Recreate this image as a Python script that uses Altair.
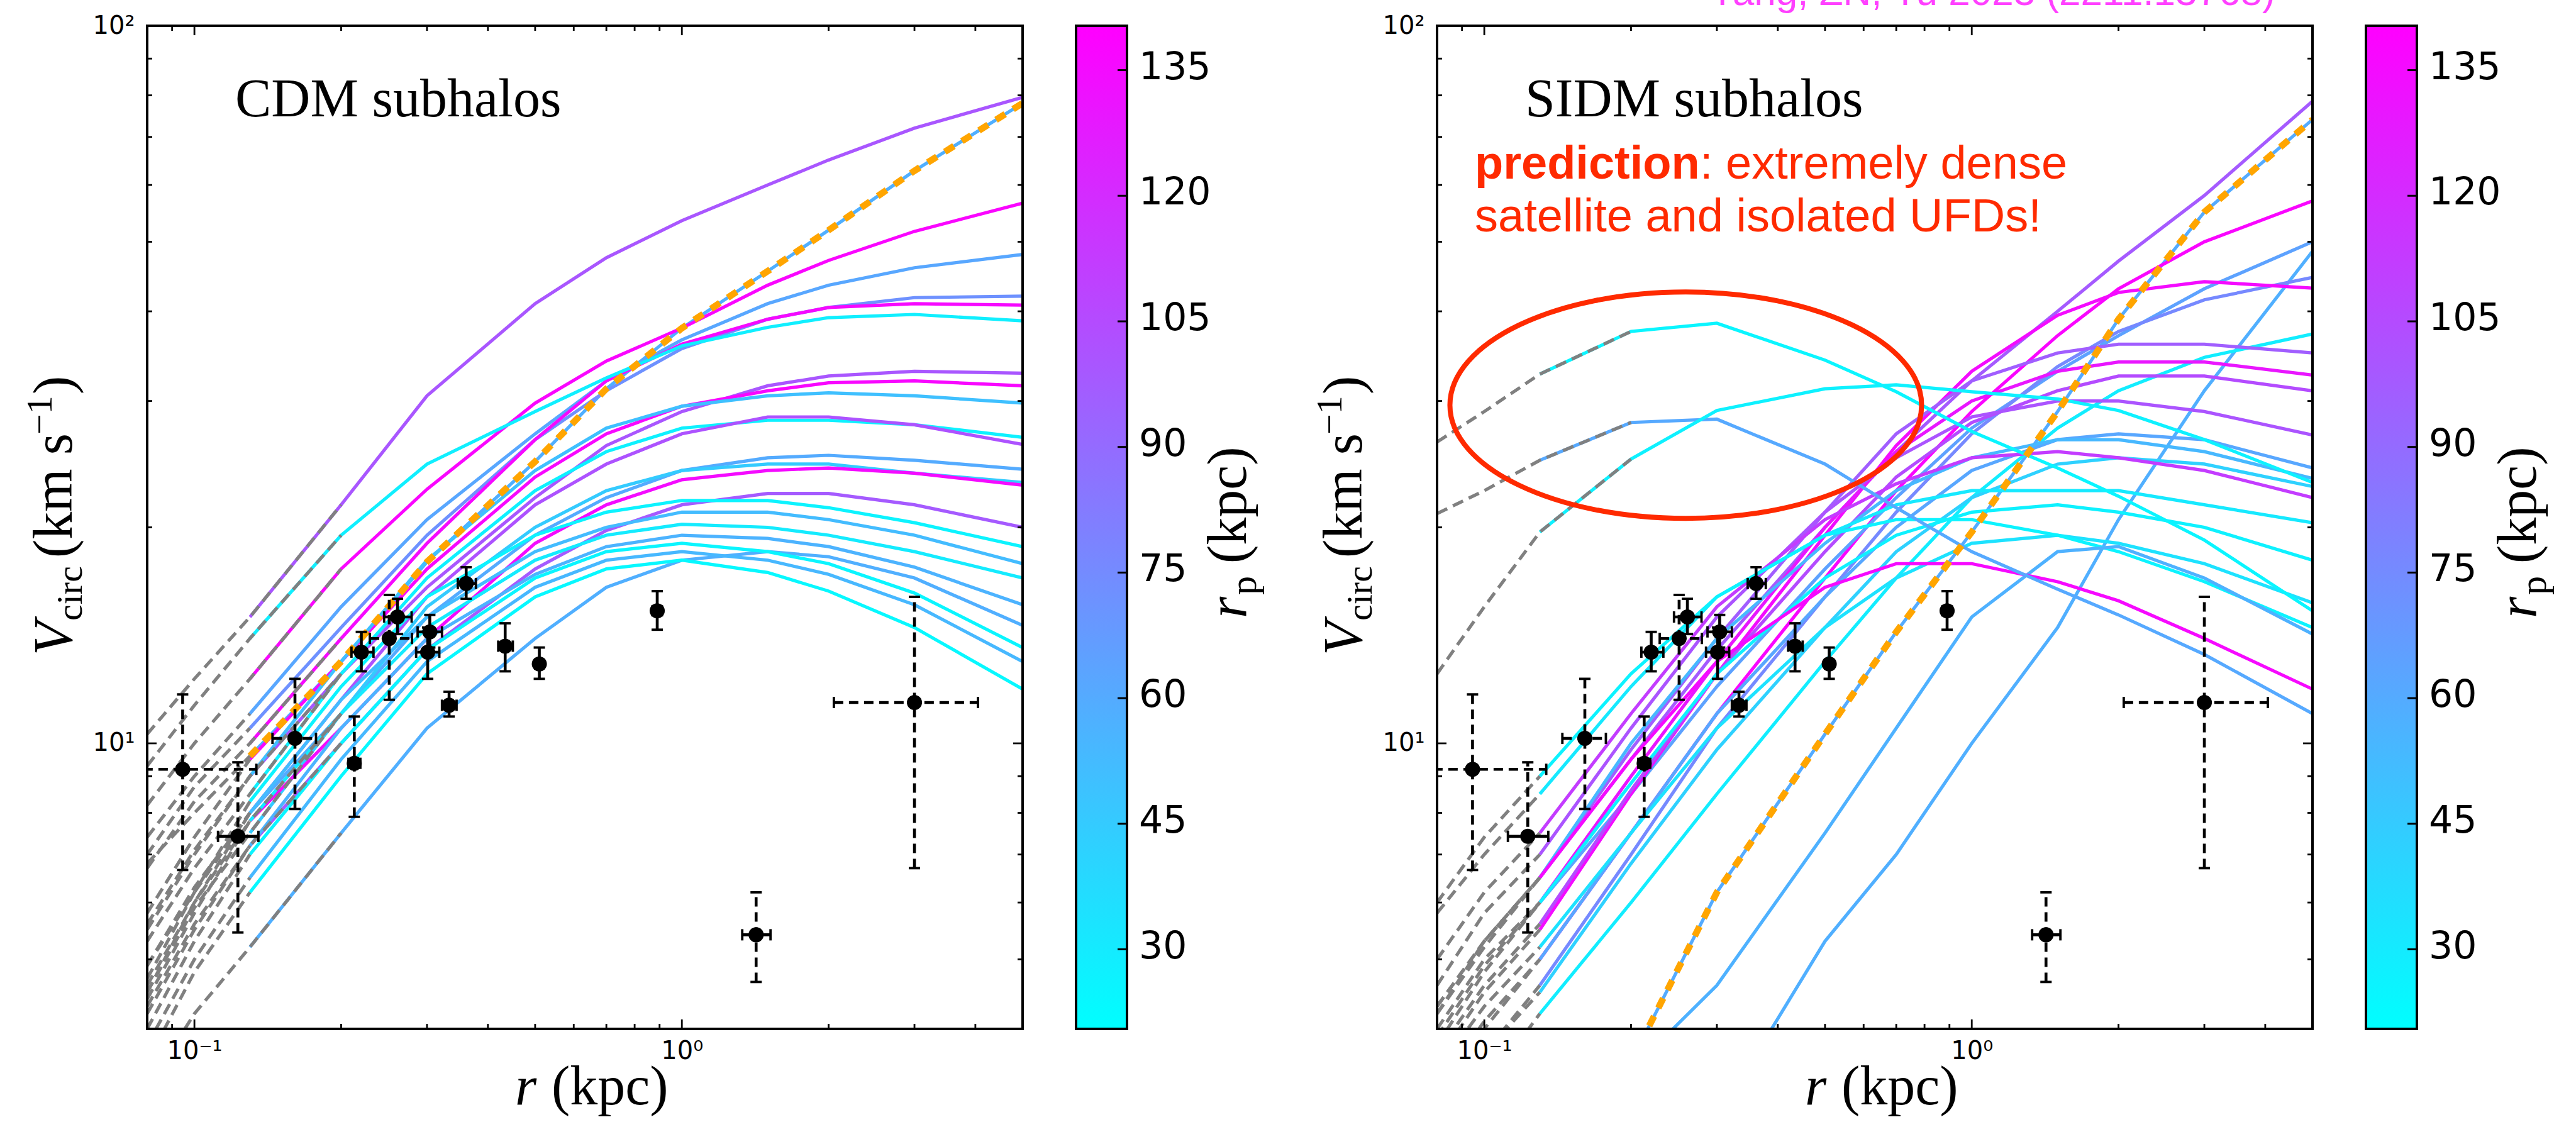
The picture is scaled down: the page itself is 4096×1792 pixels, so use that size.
import altair as alt
import pandas as pd

# ---------------------------------------------------------------- data
R_GRID = [0.08, 0.1, 0.13, 0.2, 0.3, 0.5, 0.7, 1.0, 1.5, 2.0, 3.0, 5.0]

# CDM subhalo rotation curves (km/s at R_GRID), pericentre r_p, convergence radius
CDM_RP = [100, 58, 138, 62, 72, 136, 28, 100, 137, 50, 27, 102,
          60, 45, 135, 98, 26, 52, 30, 56, 58, 25, 54, 24]
CDM_RCONV = [0.2, 0.13, 0.2, 0.13, 0.13, 0.2, 0.2, 0.2, 0.13, 0.13, 0.2, 0.13,
             0.13, 0.2, 0.13, 0.2, 0.13, 0.13, 0.2, 0.13, 0.2, 0.13, 0.13, 0.13]
CDM_V = [
    [10.3, 12.3, 15.0, 21.5, 30.5, 41.0, 47.5, 53.5, 60.0, 65.0, 72.0, 79.5],
    [6.8, 8.0, 9.6, 13.0, 17.9, 24.7, 31.2, 37.9, 45.5, 51.9, 62.8, 78.0],
    [8.2, 10.0, 12.3, 17.5, 22.6, 29.8, 34.1, 37.9, 43.5, 47.1, 51.7, 56.6],
    [7.4, 9.0, 11.0, 15.5, 20.5, 27.0, 32.0, 36.5, 41.0, 43.5, 46.0, 48.0],
    [7.0, 8.7, 10.5, 14.5, 19.5, 26.5, 31.0, 35.5, 39.0, 40.5, 41.8, 42.0],
    [6.7, 8.3, 10.0, 14.0, 19.0, 26.5, 32.0, 36.0, 39.0, 40.5, 41.0, 40.8],
    [9.3, 11.3, 14.0, 19.5, 24.5, 29.0, 32.3, 35.8, 38.0, 39.2, 39.6, 38.8],
    [5.5, 7.0, 9.0, 12.5, 16.5, 22.0, 26.0, 29.0, 31.5, 32.5, 33.0, 32.8],
    [5.8, 7.4, 9.5, 13.0, 17.5, 23.5, 27.0, 29.5, 31.0, 31.8, 32.0, 31.5],
    [5.6, 7.1, 9.0, 13.0, 18.0, 24.0, 27.5, 29.5, 30.5, 30.8, 30.5, 29.8],
    [5.3, 6.7, 8.5, 12.5, 17.0, 22.5, 25.5, 27.5, 28.2, 28.2, 27.8, 26.7],
    [4.9, 6.3, 8.0, 11.5, 16.0, 21.5, 24.5, 27.0, 28.5, 28.5, 27.8, 26.1],
    [4.9, 6.2, 8.0, 11.0, 15.0, 19.5, 22.0, 24.0, 25.0, 25.2, 24.8, 24.1],
    [4.5, 5.9, 7.5, 11.0, 15.5, 20.0, 22.5, 24.0, 24.5, 24.5, 23.8, 23.1],
    [4.6, 6.0, 7.8, 10.5, 14.0, 19.0, 21.5, 23.3, 24.0, 24.2, 23.8, 22.9],
    [4.3, 5.6, 7.2, 10.0, 13.5, 17.5, 19.8, 21.5, 22.3, 22.3, 21.5, 20.0],
    [4.7, 6.2, 8.3, 12.0, 16.0, 19.5, 21.0, 21.8, 21.8, 21.3, 20.3, 18.8],
    [4.5, 6.0, 8.0, 11.5, 15.0, 18.5, 20.0, 21.0, 21.0, 20.5, 19.5, 17.8],
    [4.4, 5.8, 7.8, 11.0, 14.5, 18.0, 19.5, 20.2, 20.0, 19.5, 18.5, 17.0],
    [4.2, 5.5, 7.2, 10.5, 14.0, 17.2, 18.8, 19.5, 19.3, 18.8, 17.6, 15.6],
    [3.3, 4.2, 5.2, 7.5, 10.5, 14.0, 16.5, 18.0, 18.5, 18.2, 17.0, 14.6],
    [4.0, 5.3, 7.0, 10.0, 13.5, 17.0, 18.5, 19.0, 18.5, 17.8, 16.2, 13.6],
    [3.8, 5.0, 6.5, 9.5, 13.0, 16.5, 18.0, 18.5, 18.0, 17.2, 15.6, 13.0],
    [3.6, 4.8, 6.2, 9.0, 12.5, 16.0, 17.5, 18.0, 17.3, 16.3, 14.5, 11.9],
]
CDM_HIGHLIGHT = 1

# SIDM subhalo rotation curves
SIDM_RP = [98, 60, 138, 64, 58, 76, 135, 29, 96, 130, 105, 101, 62,
           54, 42, 112, 31, 27, 34, 26, 57, 136, 61, 25, 27]
SIDM_RCONV = [0.13, 0.2, 0.13, 0.13, 0.0, 0.13, 0.13, 0.13, 0.13, 0.13, 0.13, 0.13, 0.13,
              0.13, 0.13, 0.13, 0.13, 0.13, 0.13, 0.13, 0.0, 0.13, 0.2, 0.2, 0.2]
SIDM_V = [
    [4.2, 5.2, 6.5, 9.5, 13.5, 20.0, 25.5, 32.0, 40.0, 47.0, 58.0, 78.5],
    [None, None, None, 3.6, 6.2, 10.3, 14.3, 19.7, 29.0, 39.0, 55.0, 74.0],
    [3.3, 4.0, 5.0, 7.5, 11.0, 17.0, 22.5, 29.0, 37.0, 43.0, 50.0, 57.0],
    [3.8, 4.8, 6.0, 8.5, 12.0, 17.5, 22.0, 27.5, 33.0, 37.0, 43.0, 50.0],
    [None, None, None, None, 3.0, 5.3, 7.0, 10.0, 14.5, 20.5, 31.0, 48.5],
    [3.0, 3.7, 4.6, 7.0, 10.5, 16.0, 21.0, 27.0, 33.5, 37.5, 41.5, 44.6],
    [3.6, 4.5, 5.5, 8.5, 12.5, 19.5, 26.0, 33.0, 39.5, 42.5, 44.0, 43.1],
    [None, 3.3, 4.2, 6.0, 8.5, 13.0, 17.0, 22.0, 27.5, 31.0, 34.5, 37.2],
    [4.3, 5.3, 6.5, 9.8, 14.0, 21.0, 27.0, 32.0, 35.0, 36.0, 36.0, 35.0],
    [3.9, 4.9, 6.0, 9.0, 13.0, 20.0, 25.5, 30.0, 33.0, 34.0, 34.0, 32.6],
    [3.7, 4.6, 5.6, 8.6, 12.5, 18.5, 23.5, 28.0, 31.0, 32.5, 32.5, 31.0],
    [4.6, 5.8, 7.0, 10.5, 15.0, 21.0, 25.0, 28.5, 30.0, 30.0, 29.0, 26.9],
    [3.3, 4.1, 5.0, 7.5, 11.0, 16.0, 20.0, 24.0, 26.5, 27.0, 26.5, 24.2],
    [4.2, 5.3, 6.5, 10.0, 14.0, 19.0, 22.5, 25.0, 26.5, 26.5, 25.5, 23.4],
    [3.0, 3.7, 4.5, 6.8, 9.8, 14.5, 18.5, 22.0, 24.5, 25.0, 24.5, 22.8],
    [5.0, 6.2, 7.5, 11.0, 15.5, 20.5, 23.0, 25.0, 25.5, 25.0, 24.0, 22.0],
    [5.8, 7.0, 8.5, 12.0, 16.0, 19.5, 21.5, 22.5, 22.5, 22.5, 21.5, 20.3],
    [4.0, 5.0, 6.0, 8.8, 12.5, 17.0, 19.5, 21.0, 21.5, 21.0, 20.0, 18.0],
    [3.5, 4.3, 5.2, 7.5, 10.5, 14.5, 17.0, 19.0, 19.5, 19.0, 17.8, 15.7],
    [6.0, 7.4, 9.0, 12.5, 16.0, 19.5, 20.5, 20.5, 19.5, 18.5, 16.8, 14.5],
    [None, None, None, 3.5, 4.6, 7.5, 10.5, 15.0, 18.5, 18.8, 17.0, 14.2],
    [4.3, 5.3, 6.5, 9.5, 13.0, 16.5, 17.8, 17.8, 16.8, 15.8, 14.0, 11.9],
    [20.9, 22.5, 24.8, 28.0, 28.3, 24.5, 21.3, 18.5, 16.4, 15.1, 13.3, 11.0],
    [26.3, 29.0, 32.7, 37.5, 38.5, 34.2, 30.9, 27.2, 24.2, 22.1, 19.2, 15.3],
    [12.5, 15.5, 19.7, 24.9, 29.1, 31.2, 31.6, 30.9, 30.2, 29.1, 26.5, 23.1],
]
SIDM_HIGHLIGHT = 1

# observed dwarf galaxies (r, Vcirc) with error ranges; dashed = uncertain
OBS_R = [0.0946, 0.1228, 0.1608, 0.2128, 0.22, 0.251, 0.261, 0.304, 0.301, 0.333,
         0.361, 0.434, 0.51, 0.89, 1.42, 3.0]
OBS_V = [9.2, 7.42, 10.16, 9.38, 13.4, 14.0, 15.0, 14.3, 13.4, 11.3,
         16.7, 13.66, 12.9, 15.3, 5.41, 11.4]
OBS_R_LO = [0.055, 0.1118, 0.1446, 0.207, 0.21, 0.229, 0.245, 0.287, 0.285, 0.322,
            0.347, 0.42, 0.5, 0.87, 1.33, 2.05]
OBS_R_HI = [0.134, 0.1353, 0.1776, 0.219, 0.233, 0.2795, 0.279, 0.322, 0.318, 0.345,
            0.378, 0.45, 0.52, 0.91, 1.52, 4.05]
OBS_V_LO = [6.66, 5.45, 8.1, 7.9, 12.6, 11.5, 14.2, 13.6, 12.3, 10.9,
            15.9, 12.6, 12.3, 14.4, 4.65, 6.7]
OBS_V_HI = [11.7, 9.41, 12.3, 10.9, 14.3, 16.1, 15.9, 15.1, 14.5, 11.8,
            17.6, 14.7, 13.6, 16.3, 6.2, 16.0]
OBS_V_DASHED = [True, True, True, True, False, True, False, False, False, False,
                False, False, False, False, True, True]
OBS_R_DASHED = [True, False, True, False, False, True, False, False, False, False,
                False, False, False, False, False, True]

X_MAJOR = [0.1, 1.0]
X_MINOR = [0.09, 0.2, 0.3, 0.4, 0.5, 0.6, 0.7, 0.8, 0.9, 2.0, 3.0, 4.0]
Y_MAJOR = [10, 100]
Y_MINOR = [5, 6, 7, 8, 9, 20, 30, 40, 50, 60, 70, 80, 90]
CB_DOMAIN = [20.5, 140.3]
CB_TICKS = [30, 45, 60, 75, 90, 105, 120, 135]

ELLIPSE_R = [0.259]
ELLIPSE_V = [29.6]

# ---------------------------------------------------------------- layout
W, H = 1392, 1595
CB_W = 81
GAP = 85
SERIF = "Liberation Serif"
SANS = "DejaVu Sans"
LW = 5.2

XS = alt.Scale(type="log", domain=[0.08, 5.0], nice=False)
YS = alt.Scale(type="log", domain=[4, 100], nice=False)
CS = alt.Scale(domain=CB_DOMAIN, range=["#00FFFF", "#FF00FF"], interpolate="rgb")
CBS = alt.Scale(domain=CB_DOMAIN, nice=False, zero=False)

XAX = alt.Axis(values=X_MAJOR, labelExpr="datum.value < 0.5 ? '10⁻¹' : '10⁰'",
               ticks=False, domain=False, grid=False, title=None, labelFont=SANS,
               labelFontSize=40, labelPadding=15, labelColor="black",
               labelFlush=False, labelOverlap=False)
YAX = alt.Axis(values=Y_MAJOR, labelExpr="datum.value < 50 ? '10¹' : '10²'",
               ticks=False, domain=False, grid=False, title=None, labelFont=SANS,
               labelFontSize=40, labelPadding=20, labelColor="black",
               labelFlush=False, labelOverlap=False)


def X(f):
    return alt.X(f + ":Q", scale=XS, axis=XAX)


def Y(f):
    return alt.Y(f + ":Q", scale=YS, axis=YAX)


ONE = pd.DataFrame({"k": [0]})


def txt(text, x, y, size, font=SERIF, style="normal", weight="normal",
        angle=0, align="left", color="black"):
    return alt.Chart(ONE).mark_text(
        text=text, font=font, fontSize=size, fontStyle=style, fontWeight=weight,
        angle=angle, align=align, baseline="alphabetic", color=color
    ).encode(x=alt.value(x), y=alt.value(y))


def curve_frames(rps, rconvs, vals, hl, tag):
    solid, gray, high = [], [], []
    for i, (rp, rc, vs) in enumerate(zip(rps, rconvs, vals)):
        for r, v in zip(R_GRID, vs):
            if v is None:
                continue
            if r >= 0.13 - 1e-9:
                solid.append({"curve": f"{tag}{i:02d}", "r": r, "V": v, "rp": rp})
                if i == hl:
                    high.append({"r": r, "V": v})
            if r <= rc + 1e-9:
                gray.append({"curve": f"{tag}{i:02d}", "r": r, "V": v})
    return pd.DataFrame(solid), pd.DataFrame(gray), pd.DataFrame(high)


obs = pd.DataFrame({"r": OBS_R, "V": OBS_V, "rlo": OBS_R_LO, "rhi": OBS_R_HI,
                    "vlo": OBS_V_LO, "vhi": OBS_V_HI,
                    "vd": OBS_V_DASHED, "rd": OBS_R_DASHED})


def panel(rps, rconvs, vals, hl, tag, label, extras):
    solid, gray, high = curve_frames(rps, rconvs, vals, hl, tag)
    L = []
    L.append(alt.Chart(solid).mark_line(clip=True, strokeWidth=LW).encode(
        x=X("r"), y=Y("V"), color=alt.Color("rp:Q", scale=CS, legend=None),
        detail="curve:N"))
    L.append(alt.Chart(high).mark_line(clip=True, strokeWidth=10.5, color="#FFA500",
                                       strokeDash=[17, 15]).encode(x=X("r"), y=Y("V")))
    L.append(alt.Chart(gray).mark_line(clip=True, strokeWidth=LW, color="#808080",
                                       strokeDash=[18, 10]).encode(
        x=X("r"), y=Y("V"), detail="curve:N"))
    # error bars
    for dashed in (False, True):
        dv = obs[obs.vd == dashed]
        dr = obs[obs.rd == dashed]
        kw = {"strokeDash": [15, 9]} if dashed else {}
        L.append(alt.Chart(dv).mark_rule(clip=True, strokeWidth=4.6, color="black", **kw)
                 .encode(x=X("r"), y=Y("vlo"), y2=alt.Y2("vhi")))
        L.append(alt.Chart(dr).mark_rule(clip=True, strokeWidth=4.6, color="black", **kw)
                 .encode(x=X("rlo"), x2=alt.X2("rhi"), y=Y("V")))
    for f in ("vlo", "vhi"):
        L.append(alt.Chart(obs).mark_tick(clip=True, orient="horizontal", size=18,
                                          thickness=3.8, color="black", opacity=1)
                 .encode(x=X("r"), y=Y(f)))
    for f in ("rlo", "rhi"):
        L.append(alt.Chart(obs).mark_tick(clip=True, orient="vertical", size=18,
                                          thickness=3.8, color="black", opacity=1)
                 .encode(x=X(f), y=Y("V")))
    L.append(alt.Chart(obs).mark_circle(size=580, color="black", opacity=1)
             .encode(x=X("r"), y=Y("V")))
    # inward ticks on all four sides
    for vals_, ln in ((X_MAJOR, 15), (X_MINOR, 8)):
        d = pd.DataFrame({"r": vals_})
        L.append(alt.Chart(d).mark_rule(color="black", strokeWidth=2.8)
                 .encode(x=X("r"), y=alt.value(H), y2=alt.value(H - ln)))
        L.append(alt.Chart(d).mark_rule(color="black", strokeWidth=2.8)
                 .encode(x=X("r"), y=alt.value(0), y2=alt.value(ln)))
    for vals_, ln in ((Y_MAJOR, 15), (Y_MINOR, 8)):
        d = pd.DataFrame({"V": vals_})
        L.append(alt.Chart(d).mark_rule(color="black", strokeWidth=2.8)
                 .encode(y=Y("V"), x=alt.value(0), x2=alt.value(ln)))
        L.append(alt.Chart(d).mark_rule(color="black", strokeWidth=2.8)
                 .encode(y=Y("V"), x=alt.value(W), x2=alt.value(W - ln)))
    L.append(alt.Chart(ONE).mark_rect(fillOpacity=0, stroke="black", strokeWidth=4)
             .encode(x=alt.value(0), x2=alt.value(W), y=alt.value(0), y2=alt.value(H)))
    # axis titles
    YT = -120
    L.append(txt("V", YT, 1001, 88, style="italic", angle=270))
    L.append(txt("circ", YT + 16, 946, 58, angle=270))
    L.append(txt("(km s", YT, 846, 88, angle=270))
    L.append(txt("−1", YT - 32, 650, 58, angle=270))
    L.append(txt(")", YT, 586, 88, angle=270))
    L.append(txt("r", 585, H + 120, 88, style="italic"))
    L.append(txt("(kpc)", 643, H + 120, 88))
    L.append(txt(label, 140, 144, 86))
    L.extend(extras)
    return alt.layer(*L).properties(width=W, height=H)


def colorbar(cell_w):
    band = pd.DataFrame({"lo": [CB_DOMAIN[0]], "hi": [CB_DOMAIN[1]]})
    ticks = pd.DataFrame({"v": CB_TICKS})
    grad = {"gradient": "linear", "x1": 0, "x2": 0, "y1": 1, "y2": 0,
            "stops": [{"offset": 0, "color": "#00FFFF"},
                      {"offset": 1, "color": "#FF00FF"}]}
    cb = alt.Chart(band).mark_rect(fill=grad, stroke="black", strokeWidth=4).encode(
        x=alt.value(0), x2=alt.value(CB_W),
        y=alt.Y("hi:Q", scale=CBS, axis=None), y2=alt.Y2("lo"))
    tk = alt.Chart(ticks).mark_rule(color="black", strokeWidth=3).encode(
        x=alt.value(CB_W - 15), x2=alt.value(CB_W),
        y=alt.Y("v:Q", scale=CBS, axis=None))
    lb = alt.Chart(ticks).mark_text(align="left", baseline="middle", dy=-4,
                                    font=SANS, fontSize=60, color="black").encode(
        x=alt.value(CB_W + 19), y=alt.Y("v:Q", scale=CBS, axis=None),
        text=alt.Text("v:Q"))
    t1 = txt("r", 270, 942, 88, style="italic", angle=270)
    t2 = txt("p", 286, 905, 60, angle=270)
    t3 = txt("(kpc)", 270, 855, 88, angle=270)
    return alt.layer(cb, tk, lb, t1, t2, t3).properties(width=cell_w, height=H)


RED = "#FF2A00"
ell = pd.DataFrame({"r": ELLIPSE_R, "V": ELLIPSE_V})
sidm_extras = [
    alt.Chart(ell).mark_point(
        shape="M -1 0 A 1 0.48 0 1 0 1 0 A 1 0.48 0 1 0 -1 0 Z",
        size=750 * 750, filled=False, stroke=RED, strokeWidth=8, opacity=1
    ).encode(x=X("r"), y=Y("V")),
    txt("prediction", 60, 243, 74, font="Liberation Sans", weight="bold", color=RED),
    txt(": extremely dense", 418, 243, 74, font="Liberation Sans", color=RED),
    txt("satellite and isolated UFDs!", 60, 327, 74, font="Liberation Sans", color=RED),
    txt("Yang, ZN, Yu 2023 (2211.13768)", 433, -33, 62, font="Liberation Sans",
        color="#FF40FF"),
]

left = panel(CDM_RP, CDM_RCONV, CDM_V, CDM_HIGHLIGHT, "c", "CDM subhalos", [])
right = panel(SIDM_RP, SIDM_RCONV, SIDM_V, SIDM_HIGHLIGHT, "s", "SIDM subhalos",
              sidm_extras)

chart = alt.hconcat(left, colorbar(489), right, colorbar(330),
                    spacing=GAP, bounds="flush").properties(
    padding={"left": 35, "top": -43, "right": 0, "bottom": 4}
).configure_view(stroke="transparent")

chart.save("out.html", embed_options={"renderer": "svg", "actions": False})
